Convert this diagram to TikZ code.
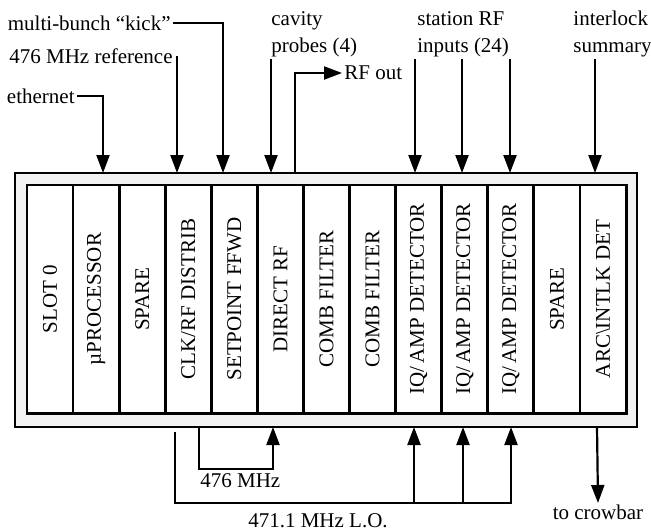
\documentclass[tikz,border=0pt]{standalone}
\usepackage{fontspec}
\setmainfont{Liberation Serif}
\usetikzlibrary{arrows.meta}

\begin{document}
\begin{tikzpicture}
	[
	x=0.5pt, y=-0.5pt,
	every node/.style={font=\fontsize{10.5}{13.5}\selectfont, inner sep=1pt},
	slot/.style={draw=black, line width=1.4pt, fill=white, rotate=90, minimum width=114pt, minimum height=23.04pt, inner sep=0pt},
	wire/.style={line width=1.1pt},
	arr/.style={wire, -{Triangle[length=9pt, width=6.5pt]}},
	lbl/.style={align=left}
	]
		\useasboundingbox (0,0) rectangle (651,531);

		% crate
		\draw[line width=1pt, fill=gray!10] (15,173) rectangle (637,427);
		\draw[line width=1.5pt, fill=white] (27,185) rectangle (626,413);

		% slots
		\node[slot] (s0) at 	(50.0, 299) {SLOT 0};
		\node[slot] (s1) at 	(96.1, 299) {µPROCESSOR};
		\node[slot] (s2) at 	(142.2, 299) {SPARE};
		\node[slot] (s3) at 	(188.3, 299) {CLK/RF DISTRIB};
		\node[slot] (s4) at 	(234.4, 299) {SETPOINT FFWD};
		\node[slot] (s5) at 	(280.4, 299) {DIRECT RF};
		\node[slot] (s6) at 	(326.5, 299) {COMB FILTER};
		\node[slot] (s7) at 	(372.6, 299) {COMB FILTER};
		\node[slot] (s8) at 	(418.7, 299) {IQ/\,AMP DETECTOR};
		\node[slot] (s9) at 	(464.8, 299) {IQ/\,AMP DETECTOR};
		\node[slot] (s10) at 	(510.8, 299) {IQ/\,AMP DETECTOR};
		\node[slot] (s11) at 	(556.9, 299) {SPARE};
		\node[slot] (s12) at 	(603.0, 299) {ARC\textbackslash INTLK DET};

		% ports, top
		\coordinate (ethin) at 	(103, 173);
		\coordinate (refin) at 	(177, 173);
		\coordinate (kickin) at 	(223, 173);
		\coordinate (cavin) at 	(271, 173);
		\coordinate (rfsrc) at 	(295, 173);
		\coordinate (in8) at 	(415, 173);
		\coordinate (in9) at 	(462, 173);
		\coordinate (in10) at 	(510, 173);
		\coordinate (ilkin) at 	(595, 173);

		% ports, bottom
		\coordinate (clkout) at 	(199, 427);
		\coordinate (drfin) at 	(273, 427);
		\coordinate (iq1in) at 	(414, 427);
		\coordinate (iq2in) at 	(463, 427);
		\coordinate (iq3in) at 	(511, 427);
		\coordinate (arcout) at 	(597, 427);
		\coordinate (lostart) at 	(175, 432);
		\coordinate (clkbus) at 	(199, 469);
		\coordinate (lobus) at 	(175, 503);

		% labels
		\node[anchor=east] (kick) at 	(173, 23) {multi-bunch “kick”};
		\node[anchor=east] (ref) at 	(175, 56) {476 MHz reference};
		\node[anchor=east] (eth) at 	(77, 96) {ethernet};
		\node[lbl, anchor=south west] (cav) at 	(269, 59) {cavity\\probes (4)};
		\node[anchor=west] (rfout) at 	(342, 73) {RF out};
		\node[lbl, anchor=south west] (station) at 	(415, 59) {station RF\\inputs (24)};
		\node[lbl, anchor=south west] (ilk) at 	(571, 59) {interlock\\summary};
		\node[anchor=north west] (mhz) at 	(198, 471) {476 MHz};
		\node (lo) at 	(318, 521) {471.1 MHz L.O.};
		\node[anchor=north] (crow) at 	(598, 503) {to crowbar};

		% drawing code
		\draw[arr] (kick.east) -| (kickin);
		\draw[arr] (eth.east) -| (ethin);
		\draw[arr] (ref.east -| refin) -- (refin);
		\draw[arr] (cav.south -| cavin) -- (cavin);
		\draw[arr] (rfsrc) |- (rfout.west);
		\foreach \p in {in8,in9,in10} \draw[arr] (station.south -| \p) -- (\p);
		\draw[arr] (ilk.south -| ilkin) -- (ilkin);
		\draw[arr] (clkout) -- (clkbus) -| (drfin);
		\draw[arr] (lostart) -- (lobus) -| (iq3in);
		\foreach \p in {iq1in,iq2in} \draw[arr] (\p |- lobus) -- (\p);
		\draw[arr] (arcout) -- (crow.north);
	\end{tikzpicture}
\end{document}
